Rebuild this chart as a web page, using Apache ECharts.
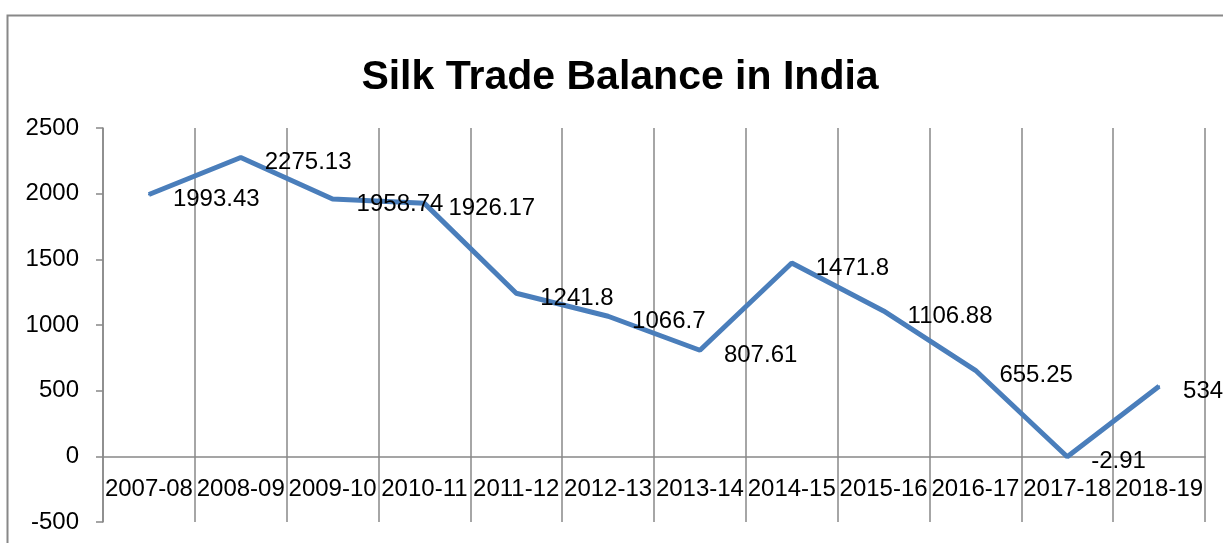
<!DOCTYPE html>
<html>
<head>
<meta charset="utf-8">
<script src="https://cdn.jsdelivr.net/npm/echarts@6/dist/echarts.min.js"></script>
<style>html,body{margin:0;padding:0;background:#fff;}#c{width:1223px;height:543px;}</style>
</head>
<body>
<div id="c"></div>
<script>
const categories = ['2007-08','2008-09','2009-10','2010-11','2011-12','2012-13','2013-14','2014-15','2015-16','2016-17','2017-18','2018-19'];
const balance = [1993.43, 2275.13, 1958.74, 1926.17, 1241.8, 1066.7, 807.61, 1471.8, 1106.88, 655.25, -2.91, 534.42];
const titleText = 'Silk Trade Balance in India';

const FONT = '"Liberation Sans", Arial, sans-serif';
const chart = echarts.init(document.getElementById('c'), null, {renderer: 'canvas'});
chart.setOption({
  animation: false,
  backgroundColor: '#fff',
  title: {
    text: titleText,
    left: 615,
    textAlign: 'center',
    top: 52,
    textStyle: {fontFamily: FONT, fontWeight: 'bold', fontSize: 41, color: '#000'}
  },
  graphic: [{
    type: 'rect',
    shape: {x: 7.5, y: 15.5, width: 1300, height: 600},
    style: {fill: null, stroke: '#888', lineWidth: 2},
    silent: true
  }],
  grid: {left: 103, right: 18, top: 128, bottom: 21, containLabel: false, outerBoundsMode: 'none'},
  xAxis: {
    type: 'category',
    data: categories,
    boundaryGap: true,
    offset: -65.7,
    axisLine: {show: true, onZero: false, lineStyle: {color: '#888', width: 1.5}},
    axisTick: {show: false},
    axisLabel: {fontFamily: FONT, fontSize: 24, color: '#000', margin: 21, interval: 0},
    splitLine: {show: true, interval: 0, lineStyle: {color: '#888', width: 1.5}}
  },
  yAxis: {
    type: 'value',
    min: -500, max: 2500, interval: 500,
    axisLine: {show: true, lineStyle: {color: '#888', width: 1.5}},
    axisTick: {show: true, length: 7, lineStyle: {color: '#888', width: 1.5}},
    axisLabel: {fontFamily: FONT, fontSize: 24, color: '#000', margin: 24, formatter: v => String(v)},
    splitLine: {show: false}
  },
  series: [{
    type: 'line',
    data: balance,
    symbol: 'circle',
    symbolSize: 2,
    showSymbol: true,
    showAllSymbol: true,
    itemStyle: {color: '#4a7ebb'},
    lineStyle: {color: '#4a7ebb', width: 5},
    label: {
      show: true,
      position: [25, 6],
      align: 'left',
      verticalAlign: 'middle',
      fontFamily: FONT, fontSize: 24, color: '#000'
    },
    labelLayout: {hideOverlap: false}
  }]
});
</script>
</body>
</html>
